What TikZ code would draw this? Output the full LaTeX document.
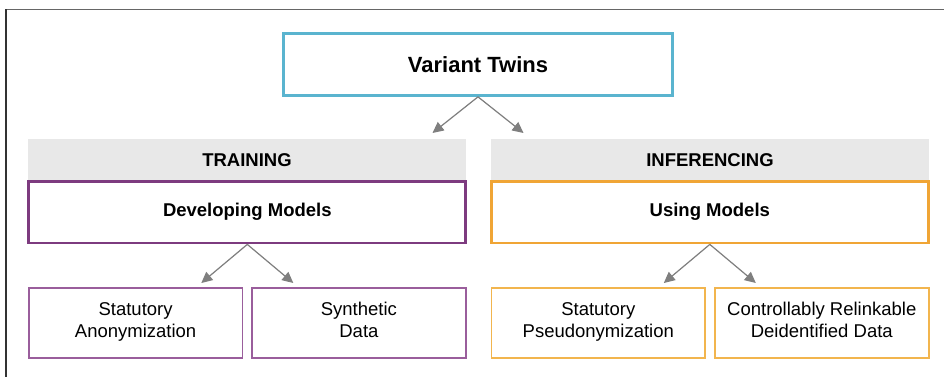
\documentclass[tikz,border=0pt]{standalone}
\usepackage{fontspec}
\setmainfont{Liberation Sans}
\usetikzlibrary{arrows.meta}
\definecolor{twinB}{HTML}{5AB4CF}
\definecolor{devP}{HTML}{7D3B7F}
\definecolor{leafP}{HTML}{9A5E9C}
\definecolor{useO}{HTML}{F0A535}
\definecolor{leafO}{HTML}{F2B54E}
\definecolor{bandG}{HTML}{E8E8E8}
\definecolor{arrG}{HTML}{7F7F7F}
\tikzset{
  >={Triangle[length=11pt,width=10.5pt]},
  band/.style={fill=bandG,minimum width=438pt,minimum height=42pt,inner sep=0pt,
    font=\bfseries\fontsize{18.5}{22}\selectfont},
  phase/.style={draw=#1,line width=2.7pt,fill=white,minimum width=437pt,
    minimum height=61.7pt,inner sep=0pt,font=\bfseries\fontsize{18.5}{22}\selectfont},
  leaf/.style={draw=#1,line width=1.6pt,minimum width=213.8pt,minimum height=70pt,
    inner sep=0pt,align=center,font=\fontsize{18.5}{22}\selectfont,
    execute at begin node=\strut,execute at end node=\strut},
  link/.style={->,draw=arrG,fill=arrG,line width=1.2pt}
}

\begin{document}
\begin{tikzpicture}[x=1pt,y=-1pt]
\useasboundingbox (0,0) rectangle (944,377);
\fill[white] (0,0) rectangle (944,377);
\draw[black!60,line width=1.6pt] (6,9.5) -- (944,9.5);
\draw[black!80,line width=1.6pt] (6,9.5) -- (6,377);
\node[draw=twinB,line width=2.7pt,minimum width=389.4pt,minimum height=61.8pt,inner sep=0pt,
  font=\bfseries\fontsize{22}{26}\selectfont] (twins) at (478,64.6) {Variant Twins};
\node[band] (train) at (247,160) {TRAINING};
\node[band] (infer) at (710,160) {INFERENCING};
\node[phase=devP] (develop) at (247.3,212.2) {Developing Models};
\node[phase=useO] (using) at (709.8,212.2) {Using Models};
\node[leaf=leafP] (anon) at (135.6,323) {Statutory\\Anonymization};
\node[leaf=leafP] (synth) at (358.9,323) {Synthetic\\Data};
\node[leaf=leafO] (pseudo) at (598.3,323) {Statutory\\Pseudonymization};
\node[leaf=leafO] (relink) at (821.8,323) {Controllably Relinkable\\Deidentified Data};
\coordinate (tipTL) at (432.5,133);
\coordinate (tipTR) at (523.5,133);
\coordinate (tipDL) at (201.3,283);
\coordinate (tipDR) at (293.3,283);
\coordinate (tipUL) at (663.8,283);
\coordinate (tipUR) at (755.8,283);
\draw[link] (twins.south) -- (tipTL);
\draw[link] (twins.south) -- (tipTR);
\draw[link] (develop.south) -- (tipDL);
\draw[link] (develop.south) -- (tipDR);
\draw[link] (using.south) -- (tipUL);
\draw[link] (using.south) -- (tipUR);
\end{tikzpicture}
\end{document}
